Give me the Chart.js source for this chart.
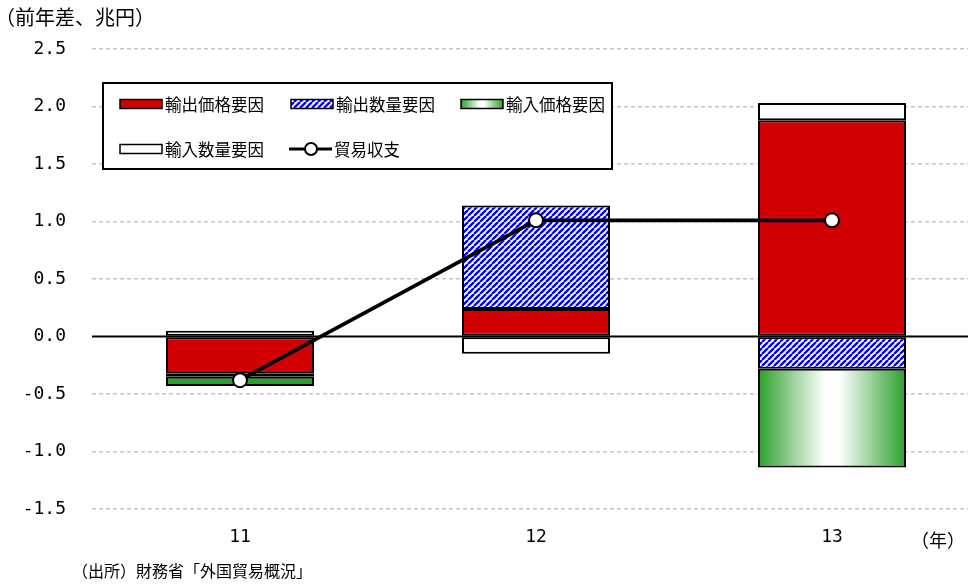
<!DOCTYPE html>
<html lang="ja">
<head>
<meta charset="utf-8">
<script src="https://cdn.jsdelivr.net/npm/chart.js@4"></script>
<style>
  html, body { margin: 0; padding: 0; background: #fff; overflow: hidden; }
  #wrap { position: relative; width: 968px; height: 585px; overflow: hidden; }
  canvas { position: absolute; left: 0; top: 0; }
  .txt { position: absolute; font-family: "Noto Sans CJK JP", sans-serif; color: #000; white-space: nowrap; line-height: 1; }
</style>
</head>
<body>
<div id="wrap">
  <canvas id="c" width="1000" height="585"></canvas>
  <div class="txt" style="left:-5px;top:7px;font-size:20px;">（前年差、兆円）</div>
  <div class="txt" style="left:911px;top:530px;font-size:18px;">（年）</div>
  <div class="txt" style="left:72px;top:562px;font-size:16px;">（出所）財務省「外国貿易概況」</div>
</div>
<script>
// Year-on-year change in the trade balance, split into price and volume factors (trillion yen)
const categories = ['11', '12', '13'];
const exportPrice = [-0.32, 0.24, 1.88];
const exportVolume = [-0.03, 0.90, -0.28];
const importPrice = [-0.08, 0, -0.86];
const importVolume = [0.05, -0.15, 0.15];
const tradeBalance = [-0.38, 1.01, 1.01];
const yMin = -1.5, yMax = 2.5, yStep = 0.5;

const seriesNames = ['輸出価格要因', '輸出数量要因', '輸入価格要因', '輸入数量要因', '貿易収支'];

const RED = '#d20000';
const BLUE = '#0000ff';
const GREEN = '#2a9f2a';

const canvas = document.getElementById('c');
const ctx = canvas.getContext('2d');

// Diagonal blue hatch tile for the export-volume segments
const hatchTile = (() => {
  const s = 6;
  const t = document.createElement('canvas');
  t.width = s; t.height = s;
  const g = t.getContext('2d');
  g.fillStyle = '#fff';
  g.fillRect(0, 0, s, s);
  g.strokeStyle = BLUE;
  g.lineWidth = 2.3;
  for (const k of [-s, 0, s]) {
    g.beginPath();
    g.moveTo(k, s);
    g.lineTo(k + s, 0);
    g.stroke();
  }
  return t;
})();
const bluePattern = ctx.createPattern(hatchTile, 'repeat');

function greenGradient(c, x0, x1) {
  const gr = c.createLinearGradient(x0, 0, x1, 0);
  gr.addColorStop(0, GREEN);
  gr.addColorStop(0.45, '#ffffff');
  gr.addColorStop(0.55, '#ffffff');
  gr.addColorStop(1, GREEN);
  return gr;
}

// Horizontal gradient per bar for the import-price segments, plus a solid zero line
const barDecor = {
  id: 'barDecor',
  beforeDatasetsDraw(chart) {
    const c = chart.ctx;
    const meta = chart.getDatasetMeta(2);
    meta.data.forEach(el => {
      el.options.backgroundColor = greenGradient(c, el.x - el.width / 2, el.x + el.width / 2);
    });
    const y0 = chart.scales.y.getPixelForValue(0);
    c.save();
    c.strokeStyle = '#000';
    c.lineWidth = 1.8;
    c.beginPath();
    c.moveTo(chart.chartArea.left, y0);
    c.lineTo(chart.width, y0);
    c.stroke();
    c.restore();
  }
};

// Boxed legend drawn in the upper-left of the plot
const boxLegend = {
  id: 'boxLegend',
  afterDraw(chart) {
    const c = chart.ctx;
    c.save();
    c.fillStyle = '#fff';
    c.fillRect(103, 83, 509, 86);
    c.strokeStyle = '#000';
    c.lineWidth = 2;
    c.strokeRect(103, 83, 509, 86);

    const rowY = [104, 149];
    const items = [
      { x: 120, y: rowY[0], kind: 'box', fill: RED },
      { x: 291, y: rowY[0], kind: 'box', fill: bluePattern },
      { x: 461, y: rowY[0], kind: 'box', fill: 'green' },
      { x: 120, y: rowY[1], kind: 'box', fill: '#fff' },
      { x: 289, y: rowY[1], kind: 'line' }
    ];
    c.font = '16.5px "Noto Sans CJK JP"';
    c.textBaseline = 'middle';
    items.forEach((it, i) => {
      const w = 42, h = 9;
      if (it.kind === 'box') {
        c.fillStyle = it.fill === 'green' ? greenGradient(c, it.x, it.x + w) : it.fill;
        c.fillRect(it.x, it.y - h / 2, w, h);
        c.strokeStyle = '#000';
        c.lineWidth = 1.5;
        c.strokeRect(it.x, it.y - h / 2, w, h);
      } else {
        c.strokeStyle = '#000';
        c.lineWidth = 3;
        c.beginPath();
        c.moveTo(it.x, it.y);
        c.lineTo(it.x + 43, it.y);
        c.stroke();
        c.beginPath();
        c.arc(it.x + 22, it.y, 6, 0, Math.PI * 2);
        c.fillStyle = '#fff';
        c.fill();
        c.lineWidth = 2;
        c.stroke();
      }
      c.fillStyle = '#000';
      c.fillText(seriesNames[i], it.x + 45, it.y + 1);
    });
    c.restore();
  }
};

const barCommon = {
  type: 'bar',
  stack: 'factors',
  borderColor: '#000',
  borderWidth: 2,
  borderSkipped: false,
  barPercentage: 0.5,
  categoryPercentage: 1.0,
  order: 1
};

new Chart(ctx, {
  data: {
    labels: categories,
    datasets: [
      { ...barCommon, label: seriesNames[0], data: exportPrice, backgroundColor: RED },
      { ...barCommon, label: seriesNames[1], data: exportVolume, backgroundColor: bluePattern },
      { ...barCommon, label: seriesNames[2], data: importPrice, backgroundColor: GREEN },
      { ...barCommon, label: seriesNames[3], data: importVolume, backgroundColor: '#fff' },
      {
        type: 'line',
        label: seriesNames[4],
        stack: 'balance',
        data: tradeBalance,
        borderColor: '#000',
        borderWidth: 3.8,
        pointRadius: 7,
        pointBackgroundColor: '#fff',
        pointBorderColor: '#000',
        pointBorderWidth: 2,
        tension: 0,
        order: 0
      }
    ]
  },
  options: {
    responsive: false,
    animation: false,
    layout: { padding: { top: 49, right: 20, bottom: 0, left: 0 } },
    plugins: { legend: { display: false }, tooltip: { enabled: false } },
    scales: {
      x: {
        stacked: true,
        grid: { display: false },
        border: { display: false },
        ticks: { color: '#000', font: { family: 'DejaVu Sans Mono', size: 18 }, padding: 10 },
        afterFit(s) { s.height = 76; }
      },
      y: {
        stacked: true,
        min: yMin,
        max: yMax,
        grid: {
          color: c => (c.tick && c.tick.value === 0) ? 'rgba(0,0,0,0)' : '#c4c4c4',
          lineWidth: 1.5,
          drawTicks: false
        },
        border: { display: false, dash: [4, 3] },
        ticks: {
          stepSize: yStep,
          color: '#000',
          padding: 26,
          font: { family: 'DejaVu Sans Mono', size: 18 },
          callback: v => v.toFixed(1)
        },
        afterFit(s) { s.width = 92; }
      }
    }
  },
  plugins: [barDecor, boxLegend]
});
</script>
</body>
</html>
